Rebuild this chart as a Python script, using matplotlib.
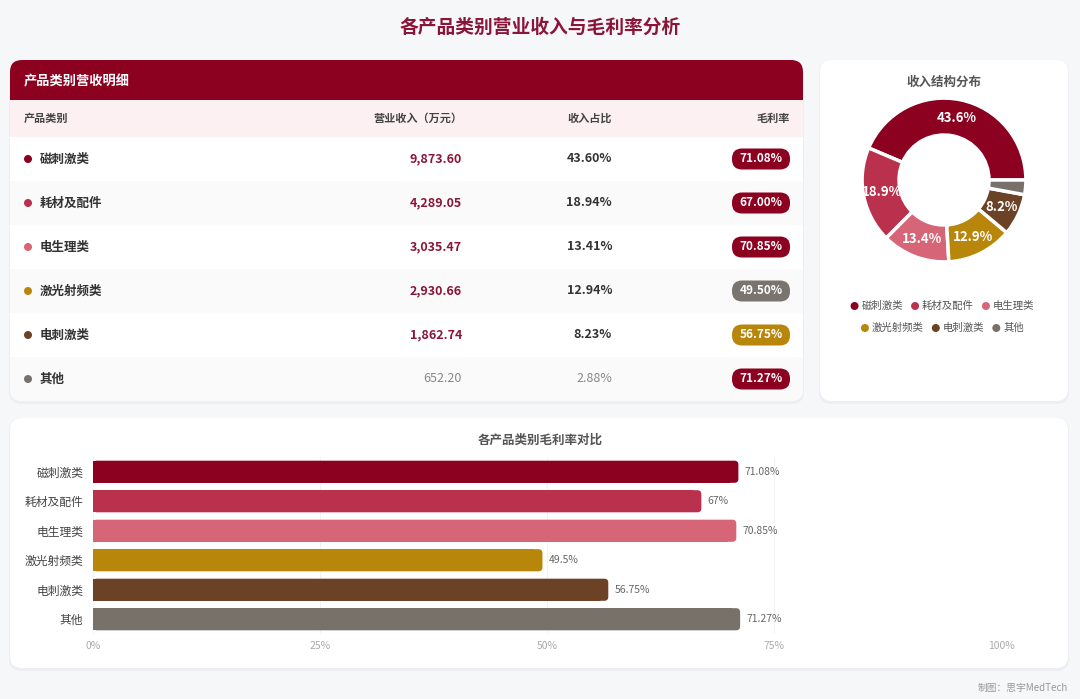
import numpy as np
import matplotlib
matplotlib.use('Agg')
import matplotlib.pyplot as plt
from matplotlib.patches import FancyBboxPatch, Rectangle, Circle

plt.rcParams['font.family'] = ['Noto Sans CJK SC', 'DejaVu Sans']

# data
categories = ['磁刺激类', '耗材及配件', '电生理类', '激光射频类', '电刺激类', '其他']
revenue = [9873.60, 4289.05, 3035.47, 2930.66, 1862.74, 652.20]
share = [43.60, 18.94, 13.41, 12.94, 8.23, 2.88]
margin = [71.08, 67.00, 70.85, 49.50, 56.75, 71.27]
colors = ['#8c0020', '#b9314d', '#d66577', '#b8860b', '#6b4226', '#78716a']
x_ticks = [0, 25, 50, 75, 100]

W, H = 1080, 699
RED = '#8c0020'
PAGE = '#f6f7f9'

fig = plt.figure(figsize=(W / 100, H / 100), dpi=100)
fig.patch.set_facecolor(PAGE)

# background axes in pixel units
bg = fig.add_axes([0, 0, 1, 1])
bg.set_xlim(0, W)
bg.set_ylim(H, 0)
bg.axis('off')


def rbox(x0, y0, x1, y1, fc, r=12, **kw):
    p = FancyBboxPatch((x0, y0), x1 - x0, y1 - y0,
                       boxstyle=f'round,pad=0,rounding_size={r}',
                       fc=fc, ec='none', **kw)
    bg.add_patch(p)
    return p


def card(x0, y0, x1, y1):
    rbox(x0 - 1, y0, x1 + 1, y1 + 3, '#eceef2', r=13)
    return rbox(x0, y0, x1, y1, 'white')


def axes_px(x0, y0, x1, y1):
    return fig.add_axes([x0 / W, (H - y1) / H, (x1 - x0) / W, (y1 - y0) / H])


bg.text(540, 27, '各产品类别营业收入与毛利率分析', ha='center', va='center',
        fontsize=13.5, fontweight='bold', color='#8b1538')

# ---- table card ----
tcard = card(10, 60, 803, 401)
p = bg.add_patch(Rectangle((10, 60), 793, 40, fc=RED, ec='none'))
p.set_clip_path(tcard)
bg.text(24, 81, '产品类别营收明细', ha='left', va='center', fontsize=9.5,
        fontweight='bold', color='white')
p = bg.add_patch(Rectangle((10, 100), 793, 37, fc='#fdf0f2', ec='none'))
p.set_clip_path(tcard)
hy = 118
bg.text(24, hy, '产品类别', ha='left', va='center', fontsize=8, fontweight='bold', color='#444')
bg.text(462, hy, '营业收入（万元）', ha='right', va='center', fontsize=8, fontweight='bold', color='#444')
bg.text(612, hy, '收入占比', ha='right', va='center', fontsize=8, fontweight='bold', color='#444')
bg.text(790, hy, '毛利率', ha='right', va='center', fontsize=8, fontweight='bold', color='#444')


def badge_color(v):
    if v >= 60:
        return RED
    if v >= 55:
        return '#b8860b'
    return '#7a746e'


row_h = 44
top = 137
for i, (cat, rev, sh, mg) in enumerate(zip(categories, revenue, share, margin)):
    y0 = top + i * row_h
    yc = y0 + row_h / 2
    fc = 'white' if i % 2 == 0 else '#fafafa'
    p = bg.add_patch(Rectangle((10, y0), 793, row_h, fc=fc, ec='none'))
    p.set_clip_path(tcard)
    bg.add_patch(Circle((28, yc), 4, fc=colors[i], ec='none'))
    bg.text(40, yc, cat, ha='left', va='center', fontsize=9, fontweight='bold', color='#333')
    last = i == len(categories) - 1
    bg.text(462, yc, f'{rev:,.2f}', ha='right', va='center', fontsize=9,
            fontweight='normal' if last else 'bold',
            color='#888' if last else '#8b1538')
    bg.text(612, yc, f'{sh:.2f}%', ha='right', va='center', fontsize=9,
            fontweight='normal' if last else 'bold',
            color='#888' if last else '#333')
    rbox(732, yc - 10.5, 790, yc + 10.5, badge_color(mg), r=10)
    bg.text(761, yc, f'{mg:.2f}%', ha='center', va='center', fontsize=8.5,
            fontweight='bold', color='white')

# ---- donut card ----
card(820, 60, 1068, 401)
bg.text(944, 82, '收入结构分布', ha='center', va='center', fontsize=9,
        fontweight='bold', color='#555')

cx, cy, R = 944, 180, 90
dax = axes_px(cx - R, cy - R, cx + R, cy + R)
outer, ring = 0.91, 0.41
wedges, _ = dax.pie(share, colors=colors, startangle=0, counterclock=True,
                    radius=outer,
                    wedgeprops=dict(width=ring, edgecolor='white', linewidth=2.5))
dax.set_xlim(-1, 1)
dax.set_ylim(-1, 1)
for w, sh in zip(wedges, share):
    if sh < 5:
        continue
    ang = np.deg2rad((w.theta1 + w.theta2) / 2)
    rl = outer - ring / 2
    dax.text(rl * np.cos(ang), rl * np.sin(ang), f'{sh:.1f}%', ha='center',
             va='center', fontsize=9.5, fontweight='bold', color='white')

# legend, two centred rows
fig.canvas.draw()
renderer = fig.canvas.get_renderer()
legend_rows = [(306, [0, 1, 2]), (328, [3, 4, 5])]
for ly, idx in legend_rows:
    items = []
    for k in idx:
        t = bg.text(0, ly, categories[k], ha='left', va='center', fontsize=7.5, color='#555')
        wpx = t.get_window_extent(renderer).width
        items.append((k, t, wpx))
    total = sum(8 + 4 + wpx for _, _, wpx in items) + 8 * (len(items) - 1)
    x = 944 - total / 2
    for k, t, wpx in items:
        bg.add_patch(Circle((x + 4, ly), 4, fc=colors[k], ec='none'))
        t.set_x(x + 11)
        x += 11 + wpx + 8

# ---- bar card ----
card(10, 418, 1068, 668)
bg.text(540, 440, '各产品类别毛利率对比', ha='center', va='center', fontsize=9,
        fontweight='bold', color='#555')

bax = axes_px(93, 457, 1001, 634)
bax.set_facecolor('none')
ypos = np.arange(len(categories))
bars = bax.barh(ypos, margin, height=0.75, color=colors)
bax.set_xlim(0, 100)
bax.set_ylim(len(categories) - 0.5, -0.5)
# round the right ends
px_x = 100 / 908
px_y = 6 / 177
rr = 4 * px_x
for b, c in zip(bars, colors):
    x0, y0, wd, ht = b.get_x(), b.get_y(), b.get_width(), b.get_height()
    b.set_width(wd - 2 * rr)
    bax.add_patch(FancyBboxPatch((x0, y0), wd, ht,
                                 boxstyle=f'round,pad=0,rounding_size={rr}',
                                 mutation_aspect=px_y / px_x, fc=c, ec='none'))
for yv, mg in zip(ypos, margin):
    bax.text(mg + 6 * px_x, yv, f'{mg:g}%', ha='left', va='center',
             fontsize=7.5, color='#666')
bax.set_yticks(ypos)
bax.set_yticklabels(categories, fontsize=8.5, color='#444')
bax.set_xticks(x_ticks)
bax.set_xticklabels([f'{v}%' for v in x_ticks], fontsize=7.5, color='#aaa')
bax.tick_params(axis='both', length=0)
bax.tick_params(axis='y', pad=7)
bax.tick_params(axis='x', pad=5)
for s in bax.spines.values():
    s.set_visible(False)
bax.set_axisbelow(True)
bax.grid(axis='x', color='#f3f3f3', linewidth=0.8)

bg.text(1068, 688, '制图：思宇MedTech', ha='right', va='center', fontsize=7, color='#999')

fig.savefig('out.png', dpi=100, facecolor=fig.get_facecolor())
